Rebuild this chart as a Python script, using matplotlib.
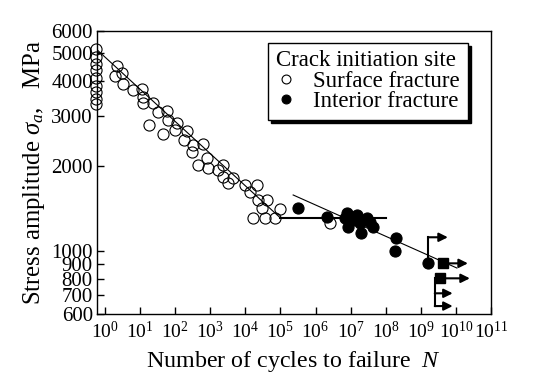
import matplotlib
matplotlib.use('Agg')
import matplotlib.pyplot as plt

plt.rcParams['font.family'] = ['Liberation Serif', 'DejaVu Serif']
plt.rcParams['mathtext.fontset'] = 'custom'
plt.rcParams['mathtext.rm'] = 'Liberation Serif'
plt.rcParams['mathtext.it'] = 'Liberation Serif:italic'
plt.rcParams['mathtext.bf'] = 'Liberation Serif:bold'

# surface fracture (open circles): cycles N, stress amplitude MPa
surf_N = [0.54, 0.54, 0.54, 0.54, 0.54, 0.54, 0.54, 0.54, 0.54,
          2.2, 3.0, 1.9, 3.3, 6.4, 11, 12, 24, 12, 57, 33, 18, 46, 64,
          110, 100, 220, 180, 330, 630, 300, 800, 450, 880, 2300, 1700,
          2300, 4500, 3300, 9700, 21000, 13500, 23000, 40000, 29000,
          97000, 17000, 36000, 70000, 2.6e6]
surf_S = [5200, 4850, 4600, 4350, 4100, 3850, 3650, 3450, 3300,
          4500, 4250, 4150, 3900, 3700, 3750, 3500, 3350, 3350, 3130, 3100, 2800, 2600, 2900,
          2830, 2680, 2650, 2470, 2370, 2400, 2250, 2130, 2020, 1960, 2020, 1940,
          1830, 1810, 1740, 1710, 1710, 1620, 1520, 1520, 1420,
          1410, 1310, 1310, 1310, 1255]

# interior fracture (filled circles)
int_N = [3.2e5, 2.1e6, 7.7e6, 1.07e7, 6.9e6, 1.2e7, 2.9e7, 1.8e7, 8.5e6,
         2.0e7, 4.2e7, 1.5e7, 3.5e7, 1.95e8, 1.8e8, 1.6e9]
int_S = [1420, 1320, 1360, 1325, 1305, 1290, 1315, 1255, 1215,
         1160, 1220, 1340, 1270, 1110, 1000, 906]

# run-outs (filled squares) and their arrows
runout_N = [4.35e9, 3.5e9]
runout_S = [906, 802]
arrow_start_N = [1.6e9, 4.35e9, 3.5e9, 2.5e9, 2.5e9]
arrow_end_N = [5.9e9, 2.2e10, 2.5e10, 8.1e9, 8.1e9]
arrow_S = [1120, 906, 802, 710, 640]
riser_N = [1.6e9, 2.5e9]
riser_S_lo = [906, 640]
riser_S_hi = [1120, 802]

# fitted lines
surf_fit_N = [0.59, 1e5]
surf_fit_S = [5150, 1310]
limit_N = [1e5, 1e8]
limit_S = [1310, 1310]
int_fit_N = [2.3e5, 1.07e10]
int_fit_S = [1580, 872]

fig = plt.figure(figsize=(5.38, 3.92), dpi=100)
ax = fig.add_axes([0.1803, 0.199, 0.7323, 0.722])
ax.set_xscale('log')
ax.set_yscale('log')

ax.plot(surf_fit_N, surf_fit_S, color='k', lw=0.8, zorder=1)
ax.plot(limit_N, limit_S, color='k', lw=1.5, zorder=1)
ax.plot(int_fit_N, int_fit_S, color='k', lw=0.8, zorder=1)

for n, lo, hi in zip(riser_N, riser_S_lo, riser_S_hi):
    ax.plot([n, n], [lo, hi], color='k', lw=1.5, zorder=2)
for n0, n1, s in zip(arrow_start_N, arrow_end_N, arrow_S):
    ax.annotate('', xy=(n1, s), xytext=(n0, s),
                arrowprops=dict(arrowstyle='-|>', color='k', lw=1.5,
                                mutation_scale=13, shrinkA=0, shrinkB=0))

ax.plot(surf_N, surf_S, 'o', ms=8, mfc='none', mec='k', mew=0.8,
        clip_on=False, zorder=3, label='Surface fracture')
ax.plot(int_N, int_S, 'o', ms=8, mfc='k', mec='k', mew=0.8,
        zorder=3, label='Interior fracture')
ax.plot(runout_N, runout_S, 's', ms=7.5, mfc='k', mec='k', zorder=3)

ax.set_xlim(0.59, 1e11)
ax.set_ylim(600, 6000)

xt = [10.0**i for i in range(12)]
ax.set_xticks(xt)
ax.set_xticklabels(['$10^{%d}$' % i for i in range(12)])
yt = [600, 700, 800, 900, 1000, 2000, 3000, 4000, 5000, 6000]
ax.set_yticks(yt)
ax.set_yticklabels([str(v) for v in yt])
ax.minorticks_off()
ax.tick_params(direction='in', length=5, width=1, top=False, right=False,
               labelsize=14, colors='k')
ax.tick_params(axis='x', pad=5)
ax.tick_params(axis='y', pad=3, labelsize=15)
for sp in ax.spines.values():
    sp.set_linewidth(1)

ax.set_xlabel('Number of cycles to failure  $N$', fontsize=17.3)
ax.set_ylabel('Stress amplitude $\\sigma_{a}$,   MPa', fontsize=17.8)
ax.xaxis.set_label_coords(0.5, -0.124)
ax.yaxis.set_label_coords(-0.128, 0.5)

leg = ax.legend(title='Crack initiation site', loc='upper left',
                bbox_to_anchor=(0.434, 0.958), fontsize=16.5,
                title_fontsize=16.5, fancybox=False, framealpha=1,
                edgecolor='k', borderpad=0.33, labelspacing=-0.03,
                handlelength=0.95, handletextpad=0.7, markerscale=0.8,
                borderaxespad=0, alignment='left',
                shadow={'ox': 2.2, 'oy': -2.2, 'facecolor': 'k',
                        'edgecolor': 'k', 'alpha': 1})
leg.get_frame().set_linewidth(1)

fig.savefig('out.png', dpi=100)
